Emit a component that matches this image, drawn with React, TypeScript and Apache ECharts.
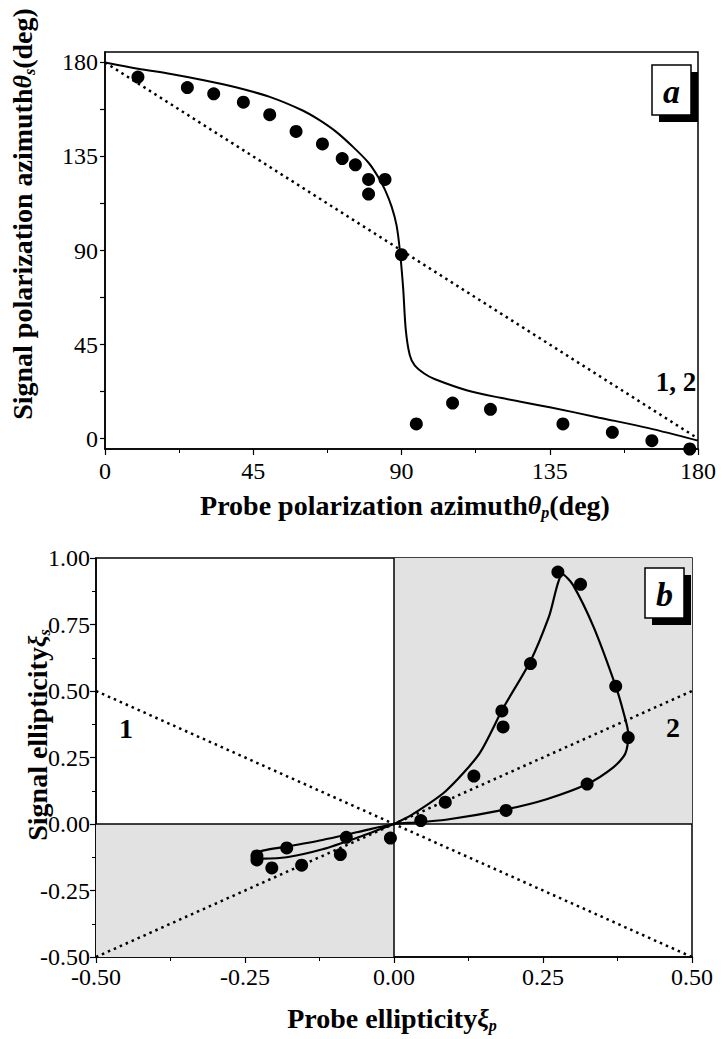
import React, { useEffect, useRef } from "react";
import * as echarts from "echarts";

// Panel a: measured points
const azProbe = [10, 25, 33, 42, 50, 58, 66, 72, 76, 80, 80, 85, 90, 94.5, 105.5, 117, 139, 154, 166, 177.5];
const azSignal = [173, 168, 165, 161, 155, 147, 141, 134, 131, 124, 117, 124, 88, 7, 17, 14, 7, 3, -1, -5];
// Panel a: theory curve
const azCurveX = [0, 10, 20, 30, 40, 50, 60, 65, 70, 75, 80, 83, 85, 87, 88.5, 89.5, 90.5, 91.3, 92.5, 94, 97, 100, 110, 120, 135, 150, 165, 180];
const azCurveY = [180, 177, 174.5, 171.5, 168, 163.5, 157, 152.5, 147, 140, 132, 125, 119, 111, 102, 90, 72, 52, 40, 35, 31, 28.5, 23, 19.5, 15, 10, 5, -1];
const azDiagX = [0, 180];
const azDiagY = [180, 0];
const azLabelTicks = [0, 45, 90, 135, 180];
const azAllTicks = [0, 22.5, 45, 67.5, 90, 112.5, 135, 157.5, 180];

// Panel b: measured points
const ellProbe = [0.275, 0.313, 0.229, 0.372, 0.181, 0.183, 0.393, 0.134, 0.324, 0.086, 0.188, 0.045, -0.006, -0.08, -0.09, -0.155, -0.18, -0.205, -0.23, -0.23];
const ellSignal = [0.947, 0.901, 0.603, 0.518, 0.425, 0.365, 0.325, 0.18, 0.15, 0.082, 0.051, 0.013, -0.053, -0.05, -0.115, -0.155, -0.09, -0.165, -0.12, -0.135];
// Panel b: theory loop
const ellCurveX = [0, 0.031, 0.087, 0.143, 0.183, 0.229, 0.26, 0.283, 0.3, 0.335, 0.372, 0.385, 0.393, 0.388, 0.368, 0.324, 0.256, 0.188, 0.087, 0.025, 0, -0.06, -0.12, -0.18, -0.22, -0.235, -0.22, -0.18, -0.12, -0.06, 0];
const ellCurveY = [0, 0.036, 0.124, 0.264, 0.435, 0.613, 0.78, 0.939, 0.9, 0.74, 0.518, 0.42, 0.34, 0.264, 0.213, 0.15, 0.093, 0.055, 0.016, 0.004, 0, -0.03, -0.06, -0.085, -0.1, -0.115, -0.13, -0.125, -0.095, -0.05, 0];
const line1X = [-0.5, 0.5];
const line1Y = [0.5, -0.5];
const line2X = [-0.5, 0.5];
const line2Y = [-0.5, 0.5];

const zip = (xs: number[], ys: number[]) => xs.map((x, i) => [x, ys[i]]);

const SERIF = "'Liberation Serif', 'Times New Roman', serif";
const black = "#000";

function cornerBox(x: number, y: number, letter: string) {
  return {
    type: "group",
    x,
    y,
    z: 100,
    children: [
      { type: "rect", z: 100, shape: { x: 7, y: 7, width: 39, height: 50 }, style: { fill: black } },
      { type: "rect", z: 101, shape: { x: 0, y: 0, width: 39, height: 50 }, style: { fill: "#fff", stroke: black, lineWidth: 1.5 } },
      {
        type: "text",
        z: 102,
        x: 19.5,
        y: 26,
        style: {
          text: letter,
          font: `italic bold 34px ${SERIF}`,
          fill: black,
          align: "center",
          verticalAlign: "middle",
        },
      },
    ],
  };
}

export default function App() {
  const ref = useRef<HTMLDivElement>(null);
  useEffect(() => {
    document.body.style.margin = "0";
    const chart = echarts.init(ref.current!, null, { renderer: "svg" });
    const axisLine = { show: true, onZero: false, lineStyle: { color: black, width: 1.5 } };
    const label = { color: black, fontFamily: SERIF, fontSize: 24 };
    const rich = {
      b: { fontFamily: SERIF, fontSize: 28, fontWeight: "bold", color: black },
      i: { fontFamily: SERIF, fontSize: 26, fontWeight: "bold", fontStyle: "italic", color: black },
      s: { fontFamily: SERIF, fontSize: 16, fontWeight: "bold", fontStyle: "italic", color: black, padding: [15, 0, 0, 0] },
    };
    const option: any = {
      animation: false,
      backgroundColor: "#fff",
      grid: [
        { left: 105, top: 52, width: 593, height: 397, show: true, borderColor: black, borderWidth: 1.5, backgroundColor: "transparent" },
        { left: 96, top: 558, width: 596, height: 399, show: true, borderColor: black, borderWidth: 1.5, backgroundColor: "transparent" },
      ],
      xAxis: [
        {
          type: "value", gridIndex: 0, min: 0, max: 180, interval: 45,
          axisLine, splitLine: { show: false },
          axisTick: { show: true, length: 6, lineStyle: { color: black, width: 1.2 } },
          minorTick: { show: true, splitNumber: 2, length: 4, lineStyle: { color: black } },
          axisLabel: { ...label, margin: 10 },
        },
        {
          type: "value", gridIndex: 1, min: -0.5, max: 0.5, interval: 0.25,
          axisLine, splitLine: { show: false },
          axisTick: { show: true, length: 6, lineStyle: { color: black, width: 1.2 } },
          minorTick: { show: true, splitNumber: 2, length: 4, lineStyle: { color: black } },
          axisLabel: { ...label, margin: 8, formatter: (v: number) => v.toFixed(2) },
        },
      ],
      yAxis: [
        {
          type: "value", gridIndex: 0, min: -5, max: 185,
          axisLine, splitLine: { show: false },
          axisTick: { show: true, length: 5, customValues: azAllTicks, lineStyle: { color: black, width: 1.2 } },
          axisLabel: { ...label, margin: 7, customValues: azLabelTicks },
        },
        {
          type: "value", gridIndex: 1, min: -0.5, max: 1, interval: 0.25,
          axisLine, splitLine: { show: false },
          axisTick: { show: true, length: 6, lineStyle: { color: black, width: 1.2 } },
          minorTick: { show: true, splitNumber: 2, length: 4, lineStyle: { color: black } },
          axisLabel: { ...label, margin: 6, formatter: (v: number) => v.toFixed(2) },
        },
      ],
      series: [
        {
          type: "line", xAxisIndex: 0, yAxisIndex: 0, data: zip(azDiagX, azDiagY), showSymbol: false,
          lineStyle: { color: black, width: 2.5, type: [2.5, 4] }, z: 2,
        },
        {
          type: "line", xAxisIndex: 0, yAxisIndex: 0, data: zip(azCurveX, azCurveY), showSymbol: false,
          smooth: 0.3, lineStyle: { color: black, width: 2 }, z: 3,
        },
        {
          type: "scatter", xAxisIndex: 0, yAxisIndex: 0, data: zip(azProbe, azSignal),
          symbol: "circle", symbolSize: 13, itemStyle: { color: black, opacity: 1 }, z: 4,
        },
        {
          type: "line", xAxisIndex: 1, yAxisIndex: 1, data: zip(line1X, line1Y), showSymbol: false,
          lineStyle: { color: black, width: 2.5, type: [2.5, 4] }, z: 2,
          markArea: {
            silent: true,
            itemStyle: { color: "#e2e2e2" },
            data: [
              [{ coord: [0, 0] }, { coord: [0.5, 1] }],
              [{ coord: [-0.5, -0.5] }, { coord: [0, 0] }],
            ],
          },
          markLine: {
            silent: true, symbol: "none", label: { show: false },
            lineStyle: { color: black, width: 1.5, type: "solid" },
            data: [{ xAxis: 0 }, { yAxis: 0 }],
          },
        },
        {
          type: "line", xAxisIndex: 1, yAxisIndex: 1, data: zip(line2X, line2Y), showSymbol: false,
          lineStyle: { color: black, width: 2.5, type: [2.5, 4] }, z: 2,
        },
        {
          type: "line", xAxisIndex: 1, yAxisIndex: 1, data: zip(ellCurveX, ellCurveY), showSymbol: false,
          smooth: 0.25, lineStyle: { color: black, width: 2.2 }, z: 3,
        },
        {
          type: "scatter", xAxisIndex: 1, yAxisIndex: 1, data: zip(ellProbe, ellSignal),
          symbol: "circle", symbolSize: 13, itemStyle: { color: black, opacity: 1 }, z: 4,
        },
      ],
      graphic: [
        {
          type: "text", x: 22, y: 214, rotation: Math.PI / 2, z: 100,
          style: {
            text: "{b|Signal polarization azimuth}{i|θ}{s|s}{b|(deg)}",
            rich, align: "center", verticalAlign: "middle",
          },
        },
        {
          type: "text", x: 405, y: 505, z: 100,
          style: {
            text: "{b|Probe polarization azimuth}{i|θ}{s|p}{b|(deg)}",
            rich, align: "center", verticalAlign: "middle",
          },
        },
        {
          type: "text", x: 37, y: 735, rotation: Math.PI / 2, z: 100,
          style: {
            text: "{b|Signal ellipticity}{i|ξ}{s|s}",
            rich, align: "center", verticalAlign: "middle",
          },
        },
        {
          type: "text", x: 392, y: 1018, z: 100,
          style: {
            text: "{b|Probe ellipticity}{i|ξ}{s|p}",
            rich, align: "center", verticalAlign: "middle",
          },
        },
        {
          type: "text", x: 676, y: 382, z: 100,
          style: { text: "1, 2", font: `bold 27px ${SERIF}`, fill: black, align: "center", verticalAlign: "middle" },
        },
        {
          type: "text", x: 126, y: 728, z: 100,
          style: { text: "1", font: `bold 28px ${SERIF}`, fill: black, align: "center", verticalAlign: "middle" },
        },
        {
          type: "text", x: 673, y: 727, z: 100,
          style: { text: "2", font: `bold 28px ${SERIF}`, fill: black, align: "center", verticalAlign: "middle" },
        },
        cornerBox(652, 65, "a"),
        cornerBox(645, 568, "b"),
      ],
    };
    chart.setOption(option);
    return () => chart.dispose();
  }, []);
  return <div ref={ref} style={{ width: 723, height: 1039 }} />;
}
